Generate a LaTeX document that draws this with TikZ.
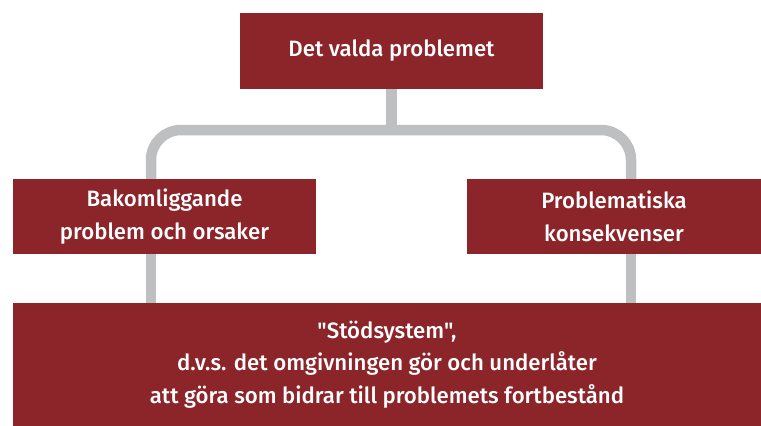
\documentclass[tikz,border=0pt]{standalone}
\usepackage{fontspec}
\setmainfont{Fira Sans Medium}
\newfontfamily\plainq{Fira Sans Medium}
\usetikzlibrary{calc,backgrounds}
\definecolor{boxred}{RGB}{139,37,42}
\definecolor{conngray}{RGB}{190,191,193}
\begin{document}
\begin{tikzpicture}[x=1pt,y=-1pt,
  redbox/.style={fill=boxred, text=white, inner sep=0pt, align=center,
    font=\fontsize{22.2}{32.5}\selectfont},
  conn/.style={draw=conngray, line width=10.5pt}]
\useasboundingbox (0,0) rectangle (761,426);
\node[redbox, minimum width=303pt, minimum height=76pt] (top) at (391.5,51) {Det valda problemet};
\node[redbox, minimum width=303pt, minimum height=75pt] (left) at (164.5,216.5) {Bakomliggande\\problem och orsaker};
\node[redbox, minimum width=294pt, minimum height=75pt] (right) at (614,216.5) {Problematiska\\konsekvenser};
\node[redbox, minimum width=748pt, minimum height=123pt] (bottom) at (387,364.5) {{\plainq"Stödsystem",}\\d.v.s. det omgivningen gör och underlåter\\att göra som bidrar till problemets fortbestånd};
\coordinate (j) at (391.5,130);
\begin{scope}[on background layer]
\draw[conn] (top.south) -- (j);
\draw[conn, rounded corners=30pt] ([xshift=-13.5pt]left.north) |- (j) -| ([xshift=17pt]right.north);
\draw[conn] ([xshift=-13.5pt]left.south) -- ([xshift=-13.5pt]left.south |- bottom.north);
\draw[conn] ([xshift=17pt]right.south) -- ([xshift=17pt]right.south |- bottom.north);
\end{scope}
\end{tikzpicture}
\end{document}
